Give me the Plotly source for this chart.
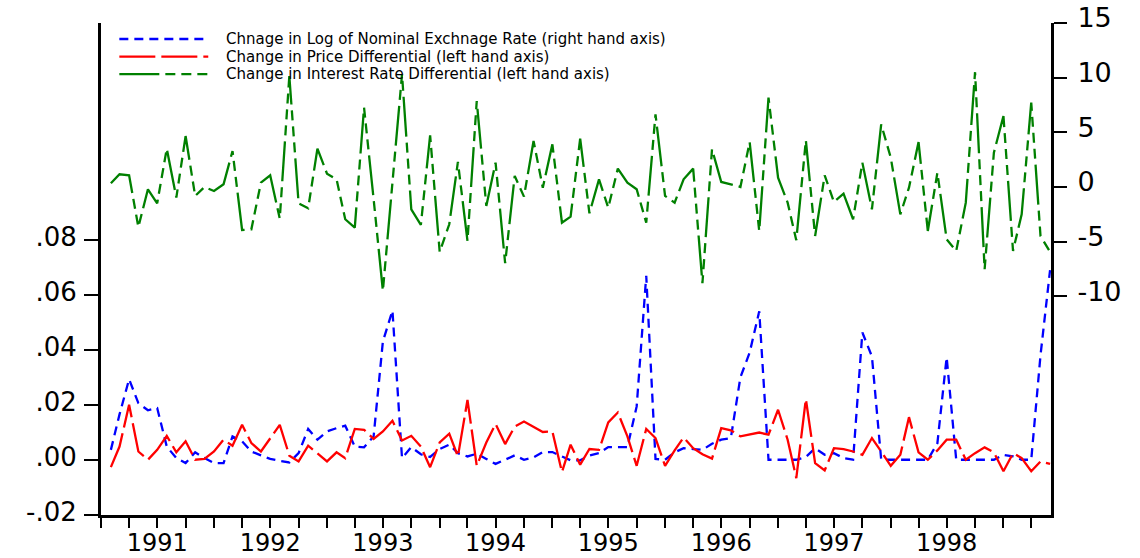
import pandas as pd
import plotly.graph_objects as go

# ---------------- data (monthly, 1991M2 .. 1999M6) ----------------
dates = pd.date_range("1991-02-01", "1999-06-01", freq="MS")

exch_rate = [
    0.0036, 0.0165, 0.0293, 0.0206, 0.0180, 0.0188, 0.0048, 0.0006, -0.0012, 0.0027,
    0.0006, -0.0012, -0.0012, 0.0085, 0.0067, 0.0030, 0.0016, 0.0003, -0.0004, -0.0010,
    0.0024, 0.0112, 0.0073, 0.0103, 0.0115, 0.0124, 0.0048, 0.0045, 0.0085, 0.0430,
    0.0543, 0.0006, 0.0046, 0.0020, 0.0010, 0.0039, 0.0055, 0.0024, 0.0012, 0.0022,
    0.0003, -0.0015, 0.0000, 0.0016, 0.0000, 0.0009, 0.0028, 0.0028, 0.0012, -0.0002,
    -0.0002, 0.0015, 0.0024, 0.0046, 0.0046, 0.0046, 0.0194, 0.0669, 0.0003, 0.0000,
    0.0027, 0.0042, 0.0039, 0.0036, 0.0058, 0.0073, 0.0079, 0.0300, 0.0390, 0.0540,
    0.0000, 0.0000, 0.0000, 0.0000, 0.0010, 0.0042, 0.0018, 0.0024, 0.0006, 0.0000,
    0.0463, 0.0376, 0.0000, 0.0000, 0.0000, 0.0000, 0.0000, 0.0000, 0.0060, 0.0373,
    0.0000, 0.0000, 0.0000, 0.0000, 0.0000, 0.0018, 0.0012, 0.0000, 0.0000, 0.0380,
    0.0690,
]

price_diff = [
    -0.0027, 0.0048, 0.0200, 0.0030, 0.0000, 0.0036, 0.0087, 0.0027, 0.0067, 0.0000,
    0.0003, 0.0030, 0.0073, 0.0051, 0.0127, 0.0061, 0.0030, 0.0079, 0.0127, 0.0015,
    -0.0006, 0.0051, 0.0024, -0.0006, 0.0027, 0.0006, 0.0112, 0.0109, 0.0076, 0.0103,
    0.0142, 0.0070, 0.0087, 0.0048, -0.0027, 0.0063, 0.0095, 0.0012, 0.0218, -0.0022,
    0.0063, 0.0130, 0.0057, 0.0121, 0.0139, 0.0121, 0.0101, 0.0103, -0.0045, 0.0055,
    -0.0018, 0.0039, 0.0036, 0.0136, 0.0172, 0.0085, -0.0022, 0.0112, 0.0079, -0.0022,
    0.0034, 0.0081, 0.0042, 0.0020, 0.0004, 0.0115, 0.0107, 0.0085, 0.0091, 0.0099,
    0.0091, 0.0182, 0.0073, -0.0067, 0.0221, -0.0012, -0.0039, 0.0042, 0.0039, 0.0030,
    0.0018, 0.0079, 0.0030, -0.0022, 0.0018, 0.0155, 0.0027, 0.0000, 0.0034, 0.0073,
    0.0073, 0.0000, 0.0024, 0.0045, 0.0027, -0.0042, 0.0024, 0.0006, -0.0042, -0.0006,
    -0.0015,
]

interest_diff = [
    0.34, 1.16, 1.07, -3.66, -0.21, -1.49, 3.51, -0.97, 4.66, -0.82,
    0.00, -0.36, 0.25, 3.29, -3.93, -3.87, 0.40, 1.07, -2.89, 10.15,
    -1.49, -1.95, 3.51, 1.22, 0.70, -2.95, -3.71, 7.26, -1.10, -9.50,
    0.40, 10.30, -2.04, -3.47, 4.73, -5.94, -3.41, 2.29, -4.93, 7.86,
    -1.73, 2.23, -6.97, 1.01, -0.88, 4.21, -0.06, 3.90, -3.26, -2.71,
    4.42, -2.40, 0.70, -1.89, 1.68, 0.40, -0.21, -3.26, 6.65, -0.82,
    -1.43, 0.70, 1.68, -8.80, 3.45, 0.46, 0.25, 0.00, 4.11, -4.02,
    8.17, 0.86, -1.43, -4.87, 4.27, -4.48, 1.07, -1.37, -0.61, -2.95,
    2.23, -2.04, 5.73, 2.69, -2.50, -0.06, 4.11, -4.02, 1.31, -4.78,
    -5.85, -1.43, 10.50, -7.52, 3.14, 6.49, -5.85, -2.50, 7.71, -4.48,
    -5.94,
]

series_names = [
    "Chnage in Log of Nominal Exchnage Rate (right hand axis)",
    "Change in Price Differential (left hand axis)",
    "Change in Interest Rate Differential (left hand axis)",
]
series_colors = ["#0000FF", "#FF0000", "#008000"]
series_dashes = ["9px,6px", "36px,6px", "40px,6px,10px,6px,10px,6px,10px,6px"]

year_labels = ["1991", "1992", "1993", "1994", "1995", "1996", "1997", "1998"]
left_tick_vals = [-0.02, 0.00, 0.02, 0.04, 0.06, 0.08]
left_tick_text = ["-.02", ".00", ".02", ".04", ".06", ".08"]
right_tick_vals = [-10, -5, 0, 5, 10, 15]
right_tick_text = ["-10", "-5", "0", "5", "10", "15"]

FONT = "DejaVu Sans"

# ---------------- figure ----------------
fig = go.Figure()
values = [exch_rate, price_diff, interest_diff]
axes = ["y", "y", "y2"]
for name, vals, color, dash, ax in zip(series_names, values, series_colors, series_dashes, axes):
    fig.add_trace(go.Scatter(
        x=dates, y=vals, name=name, mode="lines", yaxis=ax, showlegend=False,
        line=dict(color=color, width=2.3, dash=dash),
    ))

# x ticks: every quarter, year label in the middle of each year
quarter_ticks = pd.date_range("1991-01-01", "1999-04-01", freq="QS")
tick_text = []
for d in quarter_ticks:
    lab = ""
    if d.month == 7 and str(d.year) in year_labels:
        lab = year_labels[year_labels.index(str(d.year))]
    tick_text.append(lab)

axis_common = dict(showgrid=False, zeroline=False, showline=True, linecolor="black",
                   linewidth=3, ticks="outside", tickcolor="black", tickwidth=2,
                   automargin=False)

fig.update_layout(
    width=1140, height=558,
    margin=dict(l=101, r=89, t=23, b=43),
    paper_bgcolor="white", plot_bgcolor="white",
    font=dict(family=FONT, color="black"),
    xaxis=dict(
        **axis_common, type="date",
        range=["1990-12-31", "1999-06-04"],
        tickmode="array", tickvals=list(quarter_ticks), ticktext=tick_text,
        ticklen=10, ticklabelstandoff=-6,
        tickfont=dict(size=24, family=FONT, color="black"),
    ),
    yaxis=dict(
        **axis_common, range=[-0.0201, 0.1589],
        tickmode="array", tickvals=left_tick_vals, ticktext=left_tick_text,
        ticklen=14, ticklabelstandoff=2, ticklabelshift=-3,
        tickfont=dict(size=26, family=FONT, color="black"),
    ),
    yaxis2=dict(
        **axis_common, overlaying="y", side="right", range=[-30, 15],
        tickmode="array", tickvals=right_tick_vals, ticktext=right_tick_text,
        ticklen=13, ticklabelstandoff=5, ticklabelshift=-5,
        tickfont=dict(size=27, family=FONT, color="black"),
    ),
)

# legend drawn as key lines + labels (long EViews-style samples)
legend_y = [0.9675, 0.9317, 0.8959]
for name, color, dash, ly in zip(series_names, series_colors, series_dashes, legend_y):
    fig.add_shape(type="line", xref="paper", yref="paper", x0=0.0193, x1=0.1129,
                  y0=ly, y1=ly, line=dict(color=color, width=2.3, dash=dash))
    fig.add_annotation(xref="paper", yref="paper", x=0.1305, y=ly, text=name,
                       showarrow=False, xanchor="left", yanchor="middle",
                       borderpad=0,
                       font=dict(size=15, family=FONT, color="black"))

# the page's default body margin would offset the fixed-size figure
fig.write_html(
    "out.html",
    config={"displayModeBar": False},
    post_script="document.body.style.margin='0';document.body.style.overflow='hidden';",
)
